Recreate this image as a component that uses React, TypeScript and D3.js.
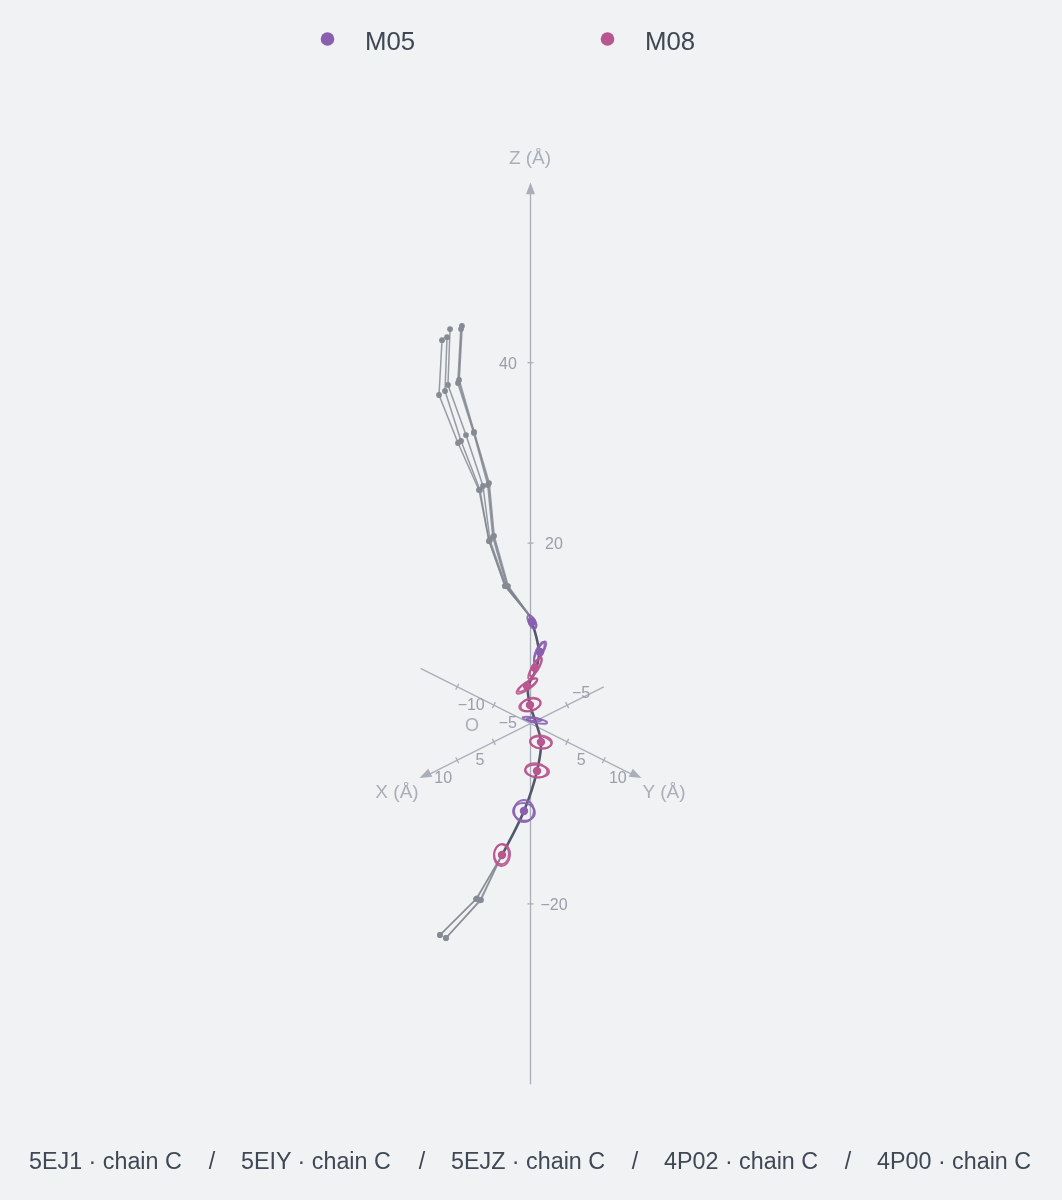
import React from "react";
import * as d3 from "d3";

const W = 1062, H = 1200;
const BG = "#f0f2f4", AXIS = "#a9aeb9", TICKTXT = "#9a9ea8", INK = "#3f4654";
const FONT = "'Liberation Sans', Arial, sans-serif";

const seriesNames = ["M05", "M08"];
const seriesColors = ["#8a5fb0", "#b9558f"];
const structures = ["5EJ1 · chain C", "5EIY · chain C", "5EJZ · chain C", "4P02 · chain C", "4P00 · chain C"];

// Trace points: [lateral Å (screen-plane combination of x,y), z Å]
const upperTraces: [number, number][][] = [
  [[-9.35, 44.07], [-9.75, 38.08], [-7.71, 32.32], [-5.66, 26.66], [-4.98, 20.79], [-3.07, 15.24], [-0.2, 12.03], [0.2, 11.25]],
  [[-9.48, 43.73], [-9.89, 37.75], [-7.71, 32.21], [-5.8, 26.44], [-5.12, 20.68], [-3.21, 15.24], [-0.2, 12.03], [0.2, 11.25]],
  [[-10.98, 43.73], [-11.26, 37.53], [-8.8, 31.98], [-6.48, 26.33], [-5.53, 20.34], [-3.34, 15.24], [-0.2, 12.03], [0.2, 11.25]],
  [[-11.39, 42.83], [-11.66, 36.86], [-9.48, 31.32], [-6.89, 25.89], [-5.66, 20.23], [-3.48, 15.24], [-0.2, 12.03], [0.2, 11.25]],
  [[-12.07, 42.5], [-12.48, 36.42], [-9.89, 31.1], [-7.03, 25.89], [-5.66, 20.23], [-3.48, 15.24], [-0.2, 12.03], [0.2, 11.25]],
];
const backbone: [number, number][] = [
  [0.2, 11.25], [0.89, 9.26], [1.16, 7.59], [0.61, 5.71], [-0.34, 4.05], [-0.07, 2.05],
  [0.61, 0.39], [1.43, -2.05], [0.89, -5.27], [-0.89, -9.71], [-3.89, -14.58],
];
const lowerTraces: [number, number][][] = [
  [[-3.89, -14.58], [-6.75, -19.57], [-11.53, -23.78]],
  [[-3.89, -14.58], [-7.44, -19.46], [-12.35, -23.45]],
  [[-3.89, -14.58], [-6.9, -19.6], [-11.53, -23.78]],
  [[-3.89, -14.58], [-7.3, -19.4], [-12.35, -23.45]],
];

// Rings: [series, lateral, z, semi-axis a Å, semi-axis b Å, tilt°]
const rings: [number, number, number, number, number, number][] = [
  [0, 0.2, 11.3, 1.0, 0.45, 60],
  [0, 0.25, 11.1, 0.8, 0.4, 65],
  [0, 1.3, 7.93, 1.6, 0.4, -62],
  [0, 1.2, 8.0, 1.4, 0.45, -65],
  [0, 0.89, 0.28, 1.4, 0.3, 10],
  [0, 0.2, 0.5, 1.3, 0.25, 8],
  [0, -0.89, -9.7, 1.35, 1.5, 0],
  [0, -0.89, -9.8, 1.5, 1.2, 10],
  [1, 0.61, 6.15, 1.7, 0.4, -60],
  [1, 0.7, 6.25, 1.4, 0.45, -58],
  [1, -0.48, 4.16, 1.7, 0.5, -35],
  [1, -0.4, 4.25, 1.5, 0.4, -33],
  [1, -0.07, 2.05, 1.5, 0.8, -15],
  [1, 0, 2.1, 1.4, 0.85, -18],
  [1, 1.43, -2.05, 1.5, 0.9, 5],
  [1, 1.4, -2.1, 1.45, 0.8, 8],
  [1, 0.89, -5.27, 1.65, 0.85, 5],
  [1, 0.8, -5.2, 1.5, 0.95, 10],
  [1, -3.89, -14.58, 1.1, 1.5, 5],
  [1, -3.95, -14.5, 1.0, 1.35, 0],
];
// Centres: [series, lateral, z]
const centres: [number, number, number][] = [
  [0, 0.2, 11.25], [0, 1.3, 7.93], [0, -0.89, -9.7],
  [1, 0.61, 6.15], [1, -0.48, 4.16], [1, -0.07, 2.05], [1, 1.43, -2.05], [1, 0.89, -5.27], [1, -3.89, -14.58],
];

const zTicks = [40, 20, -20];
const xTicks = [-5, 5, 10];
const yTicks = [-10, -5, 5, 10];

// Isometric projection
const OX = 530.5, OY = 723.5;
const ax = d3.scaleLinear().domain([0, 1]).range([0, 7.33]);
const ay = d3.scaleLinear().domain([0, 1]).range([0, 3.67]);
const zs = d3.scaleLinear().domain([-40, 40]).range([OY + 360.8, OY - 360.8]);
const lat = (u: number) => OX + ax(u);
const px = (x: number, y: number) => OX + ax(y - x);
const py = (x: number, y: number, z: number) => zs(z) + ay(x + y);

const tracePath = d3.line<[number, number]>().x(d => lat(d[0])).y(d => zs(d[1]));
const smoothPath = d3.line<[number, number]>().x(d => lat(d[0])).y(d => zs(d[1])).curve(d3.curveCatmullRom.alpha(0.5));

function Arrow({ x, y, angle }: { x: number; y: number; angle: number }) {
  return <path d="M0,0 L-12,-4.5 L-12,4.5 Z" fill={AXIS} transform={`translate(${x},${y}) rotate(${angle})`} />;
}

export default function App() {
  const xAngle = (Math.atan2(3.67, -7.33) * 180) / Math.PI;
  const yAngle = (Math.atan2(3.67, 7.33) * 180) / Math.PI;
  const grey = "#80858f";
  return (
    <svg width={W} height={H} viewBox={`0 0 ${W} ${H}`} style={{ position: "absolute", left: 0, top: 0, background: BG, fontFamily: FONT }}>
      <defs>
        <filter id="soft" x="0" y="0" width="1" height="1" filterUnits="objectBoundingBox">
          <feGaussianBlur stdDeviation="0.45" />
        </filter>
      </defs>
      <rect width={W} height={H} fill={BG} />
      <g filter="url(#soft)">
      <rect width={W} height={H} fill={BG} />
      {seriesNames.map((s, i) => (
        <g key={s}>
          <circle cx={327.5 + i * 280} cy={39} r={6.8} fill={seriesColors[i]} />
          <text x={365 + i * 280} y={49.5} fontSize={25.8} fill={INK}>{s}</text>
        </g>
      ))}

      {/* axes */}
      <g stroke={AXIS} strokeWidth={1.3} fill="none">
        <line x1={OX} x2={OX} y1={zs(-40)} y2={zs(59)} />
        <line x1={px(15, 0) + 8} y1={py(15, 0, 0) - 4} x2={px(-10, 0)} y2={py(-10, 0, 0)} />
        <line x1={px(0, 15) - 8} y1={py(0, 15, 0) - 4} x2={px(0, -15)} y2={py(0, -15, 0)} />
        {zTicks.map(t => <line key={t} x1={OX - 3} x2={OX + 3} y1={zs(t)} y2={zs(t)} />)}
        {xTicks.map(t => <line key={t} x1={px(t, 0) - 1.5} x2={px(t, 0) + 1.5} y1={py(t, 0, 0) - 3} y2={py(t, 0, 0) + 3} />)}
        {yTicks.map(t => <line key={t} x1={px(0, t) + 1.5} x2={px(0, t) - 1.5} y1={py(0, t, 0) - 3} y2={py(0, t, 0) + 3} />)}
      </g>
      <path d={`M${OX},${zs(60)} l-4.5,12 h9 Z`} fill={AXIS} />
      <Arrow x={px(15, 0) - 1} y={py(15, 0, 0) - 0.5} angle={xAngle} />
      <Arrow x={px(0, 15) + 1} y={py(0, 15, 0) - 0.5} angle={yAngle} />

      <g fill={AXIS} fontSize={19} textAnchor="middle">
        <text x={530} y={164}>Z (Å)</text>
        <text x={397} y={798}>X (Å)</text>
        <text x={664} y={798}>Y (Å)</text>
        <text x={472} y={731} fontSize={18}>O</text>
      </g>
      <g fill={TICKTXT} fontSize={16} textAnchor="middle">
        <text x={508} y={369}>40</text>
        <text x={554} y={549}>20</text>
        <text x={554} y={910}>−20</text>
        {xTicks.map(t => (
          <text key={t} x={px(t, 0) + (t < 0 ? 14 : -14)} y={py(t, 0, 0) + (t < 0 ? -7 : 23)} >{String(t).replace("-", "−")}</text>
        ))}
        {yTicks.map(t => (
          <text key={t} x={px(0, t) + 14} y={py(0, t, 0) + 23}>{String(t).replace("-", "−")}</text>
        ))}
      </g>

      {/* traces */}
      <g fill="none" strokeLinejoin="round" strokeLinecap="round">
        {upperTraces.map((t, i) => (
          <path key={i} d={tracePath(t) ?? ""} stroke={grey} strokeOpacity={0.8} strokeWidth={i < 2 ? 2 : 1.5} />
        ))}
        {lowerTraces.map((t, i) => (
          <path key={i} d={tracePath(t) ?? ""} stroke={grey} strokeOpacity={0.75} strokeWidth={1.5} />
        ))}
        <path d={smoothPath(backbone) ?? ""} stroke="#535967" strokeWidth={2.6} />
      </g>
      <g fill="#868a93">
        {upperTraces.flatMap((t, i) => t.slice(0, 6).map((d, j) => (
          <circle key={`${i}-${j}`} cx={lat(d[0])} cy={zs(d[1])} r={2.9} />
        )))}
        {lowerTraces.flatMap((t, i) => t.slice(1).map((d, j) => (
          <circle key={`${i}-${j}`} cx={lat(d[0])} cy={zs(d[1])} r={2.9} />
        )))}
      </g>

      {/* rings */}
      <g fill="none" strokeWidth={1.9}>
        {rings.map((r, i) => (
          <ellipse key={i} cx={lat(r[1])} cy={zs(r[2])} rx={ax(r[3])} ry={ax(r[4])}
            stroke={seriesColors[r[0]]} strokeOpacity={0.9}
            transform={`rotate(${r[5]} ${lat(r[1])} ${zs(r[2])})`} />
        ))}
      </g>
      {centres.map((c, i) => (
        <circle key={i} cx={lat(c[1])} cy={zs(c[2])} r={4.2} fill={seriesColors[c[0]]} />
      ))}

      {/* structures footer */}
      <g fontSize={23.3} fill={INK}>
        {structures.map((s, i) => (
          <text key={s} x={[29, 241, 451, 664, 877][i]} y={1169}>{s}</text>
        ))}
        {structures.slice(1).map((s, i) => (
          <text key={s} x={[212, 422, 635, 848][i]} y={1169} textAnchor="middle">/</text>
        ))}
      </g>
      </g>
    </svg>
  );
}
